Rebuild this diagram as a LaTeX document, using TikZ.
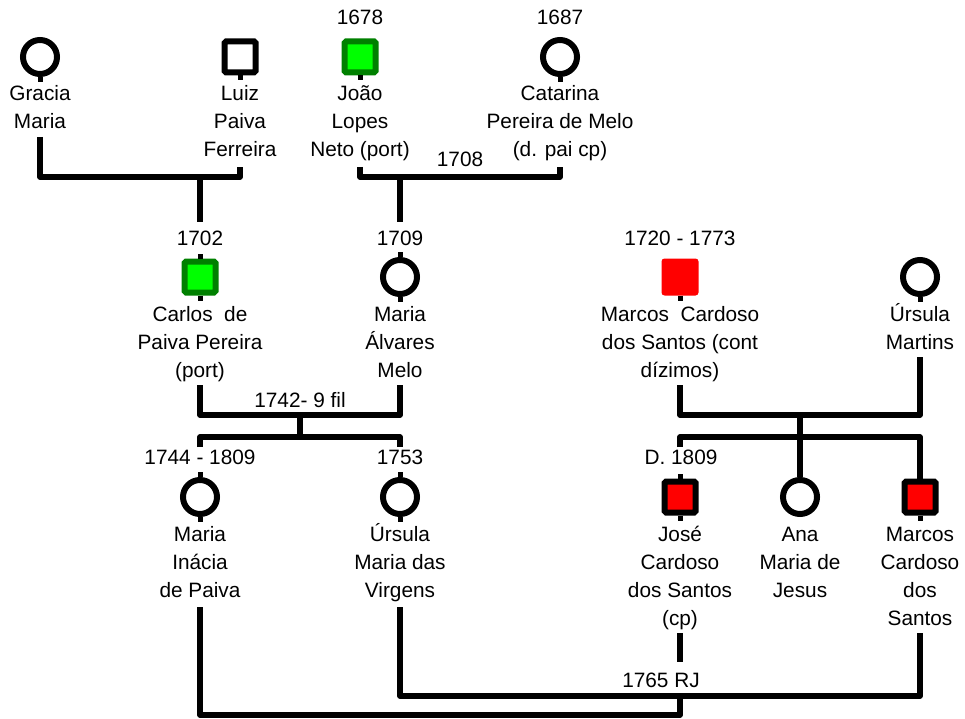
\documentclass[tikz,border=0pt]{standalone}
\usepackage{fontspec}
\setmainfont{Liberation Sans}
\definecolor{famgreen}{RGB}{0,128,0}
\definecolor{famlime}{RGB}{0,255,0}
\definecolor{famred}{RGB}{255,0,0}
% centred lines whose baseline is the baseline of the first line
\newcommand\famlines[1]{\begin{tabular}[t]{@{}c@{}}#1\end{tabular}}
\begin{document}
\begin{tikzpicture}[x=1pt,y=-1pt,
  lbl/.style={font=\fontsize{20.8}{28}\selectfont, inner sep=0pt, anchor=base},
  female/.style={circle, draw=black, fill=white, line width=6pt, minimum size=34pt, inner sep=0pt},
  male/.style={rectangle, draw=black, fill=white, line width=6pt, minimum size=31pt, inner sep=0pt, rounded corners=1.5pt},
  malegreen/.style={male, draw=famgreen, fill=famlime},
  malered/.style={male, fill=famred},
  maleplain/.style={rectangle, fill=famred, minimum size=37pt, inner sep=0pt, rounded corners=3pt},
  conn/.style={line width=5.5pt, line join=round},
  stub/.style={line width=5pt}]
\useasboundingbox (0,0) rectangle (965,719);

% ---- first generation ----
\node[female]    (gracia)   at (40,57)  {};
\node[male]      (luiz)     at (240,57) {};
\node[malegreen] (joao)     at (360,57) {};
\node[female]    (catarina) at (560,57) {};

\node[lbl] (joao-y)     at (360,25) {1678};
\node[lbl] (catarina-y) at (560,25) {1687};

\node[lbl] (gracia-t)   at (40,101)  {\famlines{Gracia\\Maria}};
\node[lbl] (luiz-t)     at (240,101) {\famlines{Luiz\\Paiva\\Ferreira}};
\node[lbl] (joao-t)     at (360,101) {\famlines{João\\Lopes\\Neto (port)}};
\node[lbl] (catarina-t) at (560,101) {\famlines{Catarina\\Pereira de Melo\\(d. pai cp)}};
\node[lbl] (m1708)      at (460,167) {1708};

% ---- second generation ----
\node[malegreen]  (carlos)  at (200,277) {};
\node[female]     (mariaa)  at (400,277) {};
\node[maleplain]  (marcos)  at (680,277) {};
\node[female]     (ursulam) at (920,277) {};

\node[lbl] (carlos-y) at (200,245) {1702};
\node[lbl] (mariaa-y) at (400,245) {1709};
\node[lbl] (marcos-y) at (680,245) {1720 - 1773};

\node[lbl] (carlos-t)  at (200,321) {\famlines{Carlos~\ de\\Paiva Pereira\\(port)}};
\node[lbl] (mariaa-t)  at (400,321) {\famlines{Maria\\Álvares\\Melo}};
\node[lbl] (marcos-t)  at (680,321) {\famlines{Marcos~\ Cardoso\\dos Santos (cont\\dízimos)}};
\node[lbl] (ursulam-t) at (920,321) {\famlines{Úrsula\\Martins}};
\node[lbl] (m1742)     at (300,407) {1742- 9 fil};

% ---- third generation ----
\node[female]    (mariai)  at (200,497) {};
\node[female]    (ursulav) at (400,497) {};
\node[malered]   (jose)    at (680,497) {};
\node[female]    (ana)     at (800,497) {};
\node[malered]   (marcoss) at (920,497) {};

\node[lbl] (mariai-y)  at (200,464) {1744 - 1809};
\node[lbl] (ursulav-y) at (400,464) {1753};
\node[lbl] (jose-y)    at (681,464) {D. 1809};

\node[lbl] (mariai-t)  at (200,541) {\famlines{Maria\\Inácia\\de Paiva}};
\node[lbl] (ursulav-t) at (400,541) {\famlines{Úrsula\\Maria das\\Virgens}};
\node[lbl] (jose-t)    at (680,541) {\famlines{José\\Cardoso\\dos Santos\\(cp)}};
\node[lbl] (ana-t)     at (800,541) {\famlines{Ana\\Maria de\\Jesus}};
\node[lbl] (marcoss-t) at (920,541) {\famlines{Marcos\\Cardoso\\dos\\Santos}};
\node[lbl] (m1765)     at (661,687) {1765 RJ};

% ---- stubs on the symbols ----
\foreach \p in {gracia,luiz,joao,catarina,carlos,mariaa,marcos,ursulam,mariai,ursulav,jose,marcoss}
  \draw[stub] (\p.south) -- ++(0,5);
\foreach \p in {carlos,mariaa,mariai,ursulav,jose}
  \draw[stub] (\p.north) -- ++(0,-5);

% ---- connector end points ----
\coordinate (gracia-b)   at (40,137);
\coordinate (luiz-b)     at (240,167);
\coordinate (joao-b)     at (360,167);
\coordinate (catarina-b) at (560,167);
\coordinate (u1)         at (200,177);
\coordinate (u2)         at (400,177);
\coordinate (carlos-a)   at (200,222);
\coordinate (mariaa-a)   at (400,222);
\coordinate (carlos-b)   at (200,385);
\coordinate (mariaa-b)   at (400,385);
\coordinate (marcos-b)   at (680,385);
\coordinate (ursulam-b)  at (920,357);
\coordinate (u3)         at (300,415);
\coordinate (u4)         at (800,415);
\coordinate (s3)         at (300,437);
\coordinate (mariai-a)   at (200,447);
\coordinate (ursulav-a)  at (400,447);
\coordinate (jose-a)     at (680,447);
\coordinate (mariai-b)   at (200,607);
\coordinate (ursulav-b)  at (400,607);
\coordinate (jose-b)     at (680,633);
\coordinate (jose-c)     at (680,662);
\coordinate (jose-d)     at (680,693);
\coordinate (marcoss-b)  at (920,633);

% ---- unions and descents ----
\draw[conn] (gracia-b) |- (luiz-b |- u1) -- (luiz-b);
\draw[conn] (u1) -- (carlos-a);
\draw[conn] (joao-b) |- (catarina-b |- u1) -- (catarina-b);
\draw[conn] (u2) -- (mariaa-a);

\draw[conn] (carlos-b) |- (mariaa-b |- u3) -- (mariaa-b);
\draw[conn] (u3) -- (s3);
\draw[conn] (mariai-a) |- (ursulav-a |- s3) -- (ursulav-a);

\draw[conn] (marcos-b) |- (ursulam-b |- u4) -- (ursulam-b);
\draw[conn] (u4) -- (ana.north);
\draw[conn] (jose-a) |- (marcoss.north |- s3) -- (marcoss.north);

\draw[conn] (jose-b) -- (jose-c);
\draw[conn] (mariai-b) |- (jose-d |- 0,715) -- (jose-d);
\draw[conn] (ursulav-b) |- (marcoss-b |- 0,696) -- (marcoss-b);
\end{tikzpicture}
\end{document}
